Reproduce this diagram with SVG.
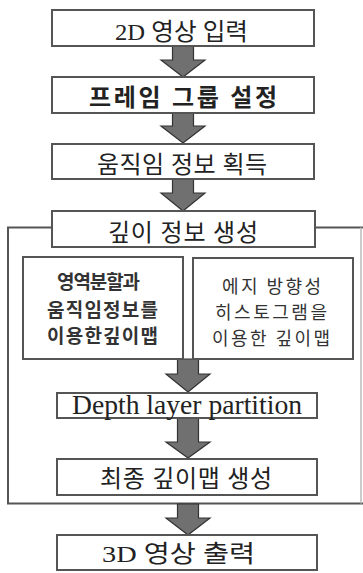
<svg xmlns="http://www.w3.org/2000/svg" width="363" height="573" viewBox="0 0 363 573">
<style>
.box{fill:#fff;stroke:#555;stroke-width:2}
.outer{fill:none;stroke:#555;stroke-width:2}
.arr{fill:#707070;stroke:#333;stroke-width:1.2;stroke-linejoin:miter}
.t{font-family:"Liberation Serif","Noto Sans CJK KR",serif;font-size:24px;fill:#222}
.ti{font-family:"Noto Sans CJK KR",sans-serif;font-size:19px;font-weight:700;fill:#333}
.tr{font-family:"Noto Sans CJK KR",sans-serif;font-size:18px;fill:#333}
.tl{font-family:"Liberation Serif",serif;font-size:28px;fill:#222}
</style>
<rect width="363" height="573" fill="#fff"/>
<g id="container">
<path class="outer" d="M52,227.5 H8 V503.5 H363"/>
<path d="M315,227.5 H363" stroke="#555" stroke-width="2" fill="none"/>
<path d="M361,227.5 V503.5" stroke="#bbb" stroke-width="1.5" fill="none"/>
</g>
<g id="connectors">
<path class="arr" d="M172.5,46 H193.5 V60 H205 L183,77 L161,60 H172.5 Z"/>
<path class="arr" d="M172.5,113 H193.5 V126 H205 L183,143 L161,126 H172.5 Z"/>
<path class="arr" d="M172.5,179 H193.5 V193 H205 L183,211 L161,193 H172.5 Z"/>
<path class="arr" d="M177.5,359 H198.5 V374 H210 L188,392 L166,374 H177.5 Z"/>
<path class="arr" d="M177.5,418 H198.5 V442 H210 L188,458 L166,442 H177.5 Z"/>
<path class="arr" d="M177.5,504 H198.5 V518 H210 L188,535 L166,518 H177.5 Z"/>
</g>
<g id="n1"><rect class="box" x="52" y="10" width="262" height="36"/>
<text class="t" x="115" y="40" textLength="133" lengthAdjust="spacingAndGlyphs">2D 영상 입력</text></g>
<g id="n2"><rect class="box" x="52" y="77" width="262" height="36"/>
<text class="t" x="89" y="106" textLength="188" lengthAdjust="spacing" font-weight="700">프레임 그룹 설정</text></g>
<g id="n3"><rect class="box" x="52" y="144" width="262" height="35"/>
<text class="t" x="97" y="173" textLength="170" lengthAdjust="spacing">움직임 정보 획득</text></g>
<g id="n4"><rect class="box" x="52" y="211" width="263" height="36"/>
<text class="t" x="108" y="241" textLength="150" lengthAdjust="spacing">깊이 정보 생성</text></g>
<g id="n5"><rect class="box" x="23" y="257" width="160" height="102"/>
<text class="ti" x="57" y="289" textLength="83" lengthAdjust="spacing">영역분할과</text>
<text class="ti" x="47" y="317" textLength="111" lengthAdjust="spacing">움직임정보를</text>
<text class="ti" x="47" y="343" textLength="111" lengthAdjust="spacing">이용한깊이맵</text></g>
<g id="n6"><rect class="box" x="193" y="258" width="160" height="101"/>
<text class="tr" x="222" y="293" textLength="99" lengthAdjust="spacing">에지 방향성</text>
<text class="tr" x="215" y="319" textLength="112" lengthAdjust="spacing">히스토그램을</text>
<text class="tr" x="212" y="345" textLength="118" lengthAdjust="spacing">이용한 깊이맵</text></g>
<g id="n7"><rect class="box" x="57" y="393" width="260" height="25"/>
<text class="tl" x="72" y="414" textLength="230" lengthAdjust="spacingAndGlyphs">Depth layer partition</text></g>
<g id="n8"><rect class="box" x="57" y="459" width="260" height="36"/>
<text class="t" x="100" y="487" textLength="172" lengthAdjust="spacing">최종 깊이맵 생성</text></g>
<g id="n9"><rect class="box" x="57" y="535" width="260" height="35"/>
<text class="t" x="102" y="562" textLength="153" lengthAdjust="spacingAndGlyphs">3D 영상 출력</text></g>
</svg>
